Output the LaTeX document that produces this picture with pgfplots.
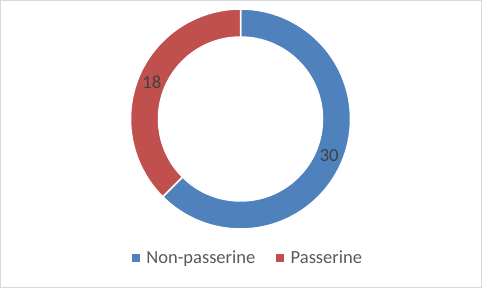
\documentclass[border=0pt]{standalone}
\usepackage{pgfplots}
\usepackage{pgfplotstable}
\pgfplotsset{compat=1.18}
\usepackage{fontspec}
\setmainfont{Carlito}
\definecolor{npblue}{HTML}{4F81BD}
\definecolor{pred}{HTML}{C0504D}
\definecolor{lblgray}{HTML}{404040}
\definecolor{leggray}{HTML}{595959}
\definecolor{framegray}{HTML}{D9D9D9}
\pgfplotstableread{
label value
Non-passerine 30
Passerine 18
}\birds
\pgfplotstablegetelem{0}{value}\of\birds\let\va\pgfplotsretval%
\pgfplotstablegetelem{1}{value}\of\birds\let\vb\pgfplotsretval%
\pgfmathsetmacro\tot{\va+\vb}%
\pgfmathsetmacro\aA{90}%
\pgfmathsetmacro\aB{90-360*\va/\tot}%
\pgfmathsetmacro\aC{\aB-360*\vb/\tot}%
\pgfmathsetmacro\mA{(\aA+\aB)/2}%
\pgfmathsetmacro\mB{(\aB+\aC)/2}%
\begin{document}
\begin{tikzpicture}
\useasboundingbox (0,0) rectangle (482bp,288bp);
\draw[framegray, line width=1bp] (0.5bp,0.5bp) rectangle (481.5bp,287.5bp);
\begin{axis}[at={(0,0)}, anchor=south west, scale only axis,
  width=482bp, height=288bp, xmin=0, xmax=482, ymin=0, ymax=288,
  hide axis, clip=false,
  legend columns=2,
  legend style={draw=none, fill=none, at={(axis cs:248,30.5)}, anchor=center,
    font=\fontsize{18.5bp}{22bp}\selectfont, text=leggray,
    /tikz/every even column/.append style={column sep=19bp}},
  legend cell align=left]
\addlegendimage{legend image code/.code={\fill[npblue] (0bp,-3.5bp) rectangle (7bp,3.5bp); \path (12bp,0bp);}}
\addlegendentry{Non-passerine}
\addlegendimage{legend image code/.code={\fill[pred] (0bp,-3.5bp) rectangle (7bp,3.5bp); \path (12bp,0bp);}}
\addlegendentry{Passerine}
\coordinate (c) at (axis cs:240.5,169);
\filldraw[fill=npblue, draw=white, line width=1.5bp]
  ([shift={(\aA:110bp)}]c) arc[start angle=\aA, end angle=\aB, radius=110bp]
  -- ([shift={(\aB:82bp)}]c) arc[start angle=\aB, end angle=\aA, radius=82bp] -- cycle;
\filldraw[fill=pred, draw=white, line width=1.5bp]
  ([shift={(\aB:110bp)}]c) arc[start angle=\aB, end angle=\aC, radius=110bp]
  -- ([shift={(\aC:82bp)}]c) arc[start angle=\aC, end angle=\aB, radius=82bp] -- cycle;
\node[text=lblgray, font=\fontsize{18.5bp}{22bp}\selectfont, inner sep=0pt] at ([shift={(\mA:96bp)}]c) {\va};
\node[text=lblgray, font=\fontsize{18.5bp}{22bp}\selectfont, inner sep=0pt] at ([shift={(\mB:96bp)}]c) {\vb};
\end{axis}
\end{tikzpicture}
\end{document}
